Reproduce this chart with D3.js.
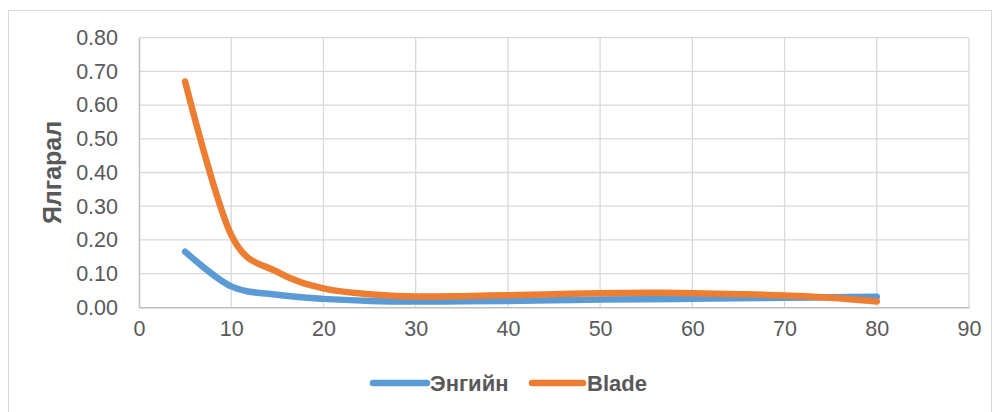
<!DOCTYPE html>
<html>
<head>
<meta charset="utf-8">
<script src="https://cdn.jsdelivr.net/npm/d3@7"></script>
<style>
  html, body { margin: 0; padding: 0; background: #fff; }
  svg { display: block; font-family: "Liberation Sans", Arial, sans-serif; }
</style>
</head>
<body>
<svg id="chart" width="994" height="412"></svg>
<script>
const xValues = [5, 10, 15, 20, 25, 30, 35, 40, 45, 50, 55, 60, 65, 70, 75, 80];
const engineValues = [0.165, 0.062, 0.037, 0.025, 0.019, 0.017, 0.018, 0.019, 0.021, 0.023, 0.024, 0.025, 0.027, 0.028, 0.030, 0.031];
const bladeValues = [0.67, 0.215, 0.105, 0.056, 0.039, 0.032, 0.033, 0.036, 0.039, 0.042, 0.043, 0.042, 0.039, 0.035, 0.028, 0.017];
const seriesNames = ["Энгийн", "Blade"];
const seriesColors = ["#5B9BD5", "#ED7D31"];
const xTicks = [0, 10, 20, 30, 40, 50, 60, 70, 80, 90];
const yTicks = [0, 0.1, 0.2, 0.3, 0.4, 0.5, 0.6, 0.7, 0.8];
const yTitle = "Ялгарал";

const svg = d3.select("#chart");
const L = 139, R = 969, T = 37.7, B = 307.3;
const x = d3.scaleLinear().domain([0, 90]).range([L, R]);
const y = d3.scaleLinear().domain([0, 0.8]).range([B, T]);

// outer chart border
svg.append("rect").attr("x", 8.5).attr("y", 10.5).attr("width", 983).attr("height", 410)
  .attr("fill", "none").attr("stroke", "#d9d9d9").attr("stroke-width", 1);

// gridlines
svg.append("g").selectAll("line.h").data(yTicks.slice(1)).join("line")
  .attr("x1", L).attr("x2", R).attr("y1", d => y(d)).attr("y2", d => y(d))
  .attr("stroke", "#d9d9d9").attr("stroke-width", 1.3);
svg.append("g").selectAll("line.v").data(xTicks.slice(1)).join("line")
  .attr("y1", T).attr("y2", B).attr("x1", d => x(d)).attr("x2", d => x(d))
  .attr("stroke", "#d9d9d9").attr("stroke-width", 1.3);

// axes
const xAxis = d3.axisBottom(x).tickValues(xTicks).tickSize(0).tickPadding(13).tickFormat(d3.format("d"));
const gx = svg.append("g").attr("transform", `translate(0,${B})`).call(xAxis);
gx.select(".domain").attr("stroke", "#bfbfbf").attr("stroke-width", 1.5);
gx.selectAll("text").attr("fill", "#595959").attr("font-size", 21.5).attr("dy", "0.71em");

const yAxis = d3.axisLeft(y).tickValues(yTicks).tickSize(0).tickPadding(21).tickFormat(d3.format(".2f"));
const gy = svg.append("g").attr("transform", `translate(${L},0)`).call(yAxis);
gy.select(".domain").attr("stroke", "#bfbfbf").attr("stroke-width", 1.5);
gy.selectAll("text").attr("fill", "#595959").attr("font-size", 21.5);

// y axis title
svg.append("text").attr("transform", `translate(61,${(T + B) / 2}) rotate(-90)`)
  .attr("text-anchor", "middle").attr("font-size", 25).attr("font-weight", "bold")
  .attr("fill", "#595959").text(yTitle);

// lines
const line = d3.line().x(d => x(d[0])).y(d => y(d[1])).curve(d3.curveCardinal.tension(0));
[engineValues, bladeValues].forEach((vals, i) => {
  svg.append("path").datum(xValues.map((xv, j) => [xv, vals[j]]))
    .attr("d", line).attr("fill", "none").attr("stroke", seriesColors[i])
    .attr("stroke-width", 6.5).attr("stroke-linecap", "round").attr("stroke-linejoin", "round");
});

// legend
const legendItems = [{ x1: 373, x2: 427, tx: 430 }, { x1: 532, x2: 583, tx: 587 }];
legendItems.forEach((it, i) => {
  svg.append("line").attr("x1", it.x1).attr("x2", it.x2).attr("y1", 383).attr("y2", 383)
    .attr("stroke", seriesColors[i]).attr("stroke-width", 6.5).attr("stroke-linecap", "round");
  svg.append("text").attr("x", it.tx).attr("y", 391).attr("font-size", 22).attr("font-weight", "bold")
    .attr("fill", "#595959").text(seriesNames[i]);
});
</script>
</body>
</html>
